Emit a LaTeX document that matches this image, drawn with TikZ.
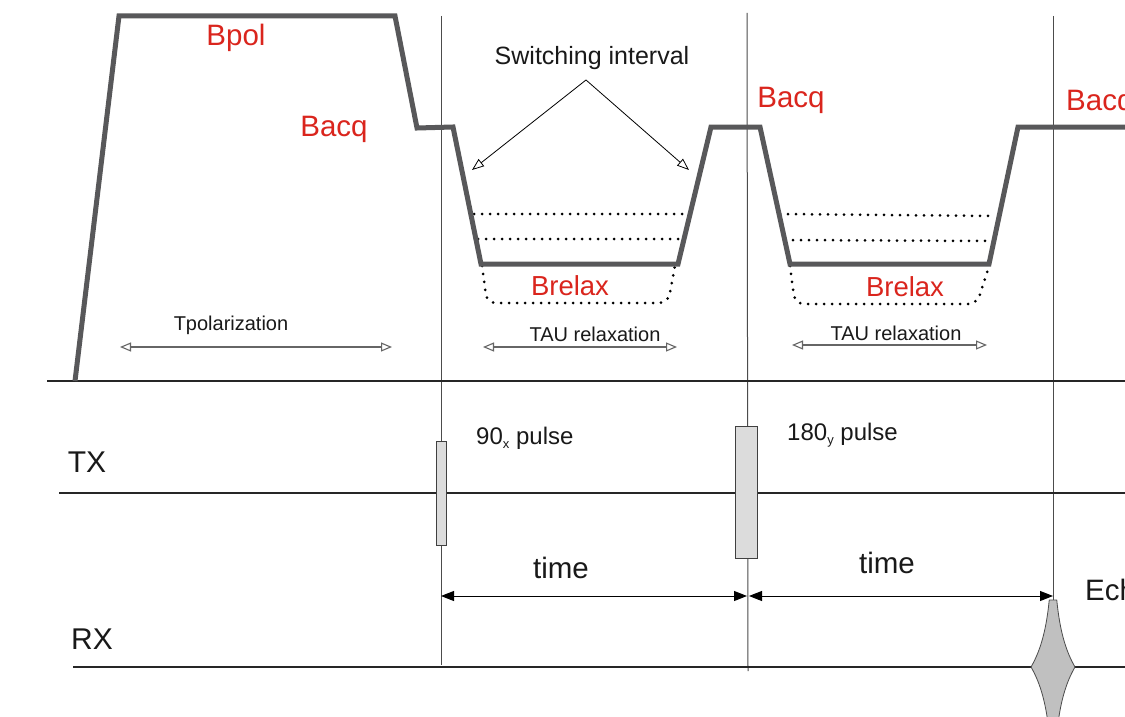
\documentclass[tikz,border=0pt]{standalone}
\usepackage{fontspec}
\setmainfont{Liberation Sans}
\usetikzlibrary{arrows.meta}
\definecolor{wave}{HTML}{58585A}
\definecolor{lblred}{HTML}{DA251D}
\definecolor{pulsefill}{HTML}{DCDCDC}
\definecolor{echofill}{HTML}{C0C0C0}
\newcommand{\smallsub}[1]{\raisebox{-4pt}{\fontsize{13}{14}\selectfont #1}}
\tikzset{
  wavef/.style={draw=wave,line width=5pt,line join=miter},
  axis/.style={draw=black!85,line width=2.8pt},
  vline/.style={draw=black!70,line width=1pt},
  dotline/.style={draw=black,line width=3pt,line cap=round,dash pattern=on 0pt off 8pt},
  redlbl/.style={text=lblred,font=\fontsize{29.5}{32}\selectfont,inner sep=0pt},
  blklbl/.style={text=black!90,inner sep=0pt},
  dimarrow/.style={draw=black!60,line width=1.1pt,{Triangle[open,length=11pt,width=9pt]}-{Triangle[open,length=11pt,width=9pt]}},
  timearrow/.style={draw=black,line width=1pt,{Triangle[length=13pt,width=10pt]}-{Triangle[length=13pt,width=10pt]}},
  swarrow/.style={draw=black,line width=0.8pt,-{Triangle[open,length=12pt,width=9pt]}},
  pulse/.style={draw=black!75,fill=pulsefill,line width=1pt}
}
\begin{document}
\begin{tikzpicture}[x=1pt,y=-1pt]
\clip (0,0) rectangle (1125,717);
\fill[white] (0,0) rectangle (1125,717);

% vertical guide lines
\coordinate (v1t) at (441,16); \coordinate (v1b) at (441,665);
\coordinate (v2t) at (747,13); \coordinate (v2b) at (748,671);
\coordinate (v3t) at (1053,16); \coordinate (v3b) at (1053,600);
\draw[vline] (v1t) -- (v1b);
\draw[vline] (v2t) -- (v2b);
\draw[vline] (v3t) -- (v3b);

% axes
\coordinate (a1l) at (47,381); \coordinate (a1r) at (1125,381);
\coordinate (txl) at (59,493); \coordinate (txr) at (1125,493);
\coordinate (rxl) at (73,667); \coordinate (rxr) at (1125,667);
\draw[axis] (a1l) -- (a1r);
\draw[axis] (txl) -- (txr);
\draw[axis] (rxl) -- (rxr);

% dotted levels
\draw[dotline] (474,214) -- (688,214);
\draw[dotline] (478,239) -- (683,239);
\draw[dotline,rounded corners=9pt] (482,266) -- (487,303) -- (668,303) -- (675,266);
\draw[dotline] (780,214) -- (995,216);
\draw[dotline] (785,240) -- (990,241);
\draw[dotline,rounded corners=9pt] (790,266) -- (795,304) -- (977,304) -- (989,266);

% B field waveform
\draw[wavef] (75,381) -- (119,16) -- (395,16) -- (417,128) -- (453,127)
  -- (481,264) -- (678,264) -- (711,127) -- (760,127) -- (790,264)
  -- (989,264) -- (1018,127) -- (1130,127);

% red labels
\node[redlbl] (bpol) at (236,38) {Bpol};
\node[redlbl] (bacq1) at (334,129) {Bacq};
\node[redlbl] (bacq2) at (791,100) {Bacq};
\node[redlbl,anchor=west] (bacq3) at (1066,103) {Bacq};
\node[redlbl,font=\fontsize{27.5}{30}\selectfont] (brel1) at (570,286) {Brelax};
\node[redlbl,font=\fontsize{27.5}{30}\selectfont] (brel2) at (905,287) {Brelax};

% switching interval
\node[blklbl,font=\fontsize{25}{28}\selectfont] (sw) at (592,58) {Switching interval};
\coordinate (apex) at (586,80);
\coordinate (swl) at (472,170);
\coordinate (swr) at (689,170);
\draw[swarrow] (apex) -- (swl);
\draw[swarrow] (apex) -- (swr);

% duration arrows
\node[blklbl,font=\fontsize{20}{23}\selectfont] (tpol) at (231,325) {Tpolarization};
\coordinate (tpl) at (120,347); \coordinate (tpr) at (392,347);
\draw[dimarrow] (tpl) -- (tpr);
\node[blklbl,font=\fontsize{20}{23}\selectfont] (tau1) at (595,334) {TAU relaxation};
\coordinate (t1l) at (483,347); \coordinate (t1r) at (677,347);
\draw[dimarrow] (t1l) -- (t1r);
\node[blklbl,font=\fontsize{20}{23}\selectfont] (tau2) at (896,333) {TAU relaxation};
\coordinate (t2l) at (792,345); \coordinate (t2r) at (987,345);
\draw[dimarrow] (t2l) -- (t2r);

% TX / RX
\node[blklbl,font=\fontsize{30}{32}\selectfont] (tx) at (87,462) {TX};
\node[blklbl,font=\fontsize{30}{32}\selectfont] (rx) at (92,639) {RX};

% pulses
\draw[pulse] (436,441) rectangle (446,545);
\draw[pulse] (735,426) rectangle (757,558);
\node[blklbl,font=\fontsize{24}{26}\selectfont,anchor=base west] (p90) at (476,444) {90\smallsub{x} pulse};
\node[blklbl,font=\fontsize{24}{26}\selectfont,anchor=base west] (p180) at (787,440) {180\smallsub{y} pulse};

% time arrows
\coordinate (ta) at (441,596); \coordinate (tb) at (747,596);
\coordinate (tc) at (749,596); \coordinate (td) at (1053,596);
\draw[timearrow] (ta) -- (tb);
\draw[timearrow] (tc) -- (td);
\node[blklbl,font=\fontsize{29.5}{32}\selectfont] (time1) at (561,568) {time};
\node[blklbl,font=\fontsize{29.5}{32}\selectfont] (time2) at (887,563) {time};

% echo
\filldraw[fill=echofill,draw=black!70,line width=0.8pt]
  plot[domain=600:740,samples=120] ({1053+22*exp(-abs(\x-667)/38)},\x)
  -- plot[domain=740:600,samples=120] ({1053-22*exp(-abs(\x-667)/38)},\x) -- cycle;
\node[blklbl,font=\fontsize{29.5}{32}\selectfont,anchor=west] (echo) at (1085,590) {Echo};
\end{tikzpicture}
\end{document}
